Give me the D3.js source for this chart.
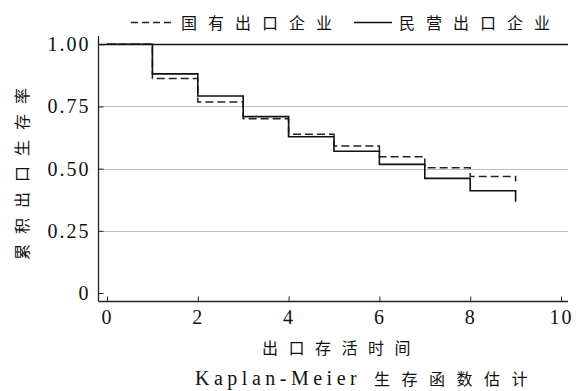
<!DOCTYPE html>
<html>
<head>
<meta charset="utf-8">
<script src="https://cdn.jsdelivr.net/npm/d3@7"></script>
<style>
  html, body { margin: 0; padding: 0; background: #fff; }
  svg { display: block; }
</style>
</head>
<body>
<div id="chart"></div>
<script>
// data
var times = [0, 1, 2, 3, 4, 5, 6, 7, 8, 9];
var stateSurvival = [1, 0.862, 0.768, 0.701, 0.638, 0.591, 0.548, 0.504, 0.468, 0.448];
var privateSurvival = [1, 0.881, 0.792, 0.709, 0.628, 0.570, 0.517, 0.461, 0.411, 0.367];
var xTicks = [0, 2, 4, 6, 8, 10];
var yTicks = [0, 0.25, 0.5, 0.75, 1];
var yTickLabels = ['0', '0.25', '0.50', '0.75', '1.00'];
var seriesNames = ['国有出口企业', '民营出口企业'];

var attrs = {
  svgWidth: 576,
  svgHeight: 391,
  plotLeft: 107,
  plotRight: 561,
  plotTop: 44.3,
  plotBottom: 293,
  axisLeftX: 98.5,
  axisBottomY: 301.5,
  axisRightEnd: 568,
  serif: '"Liberation Serif", "DejaVu Serif", serif',
  cjk: '"Noto Sans CJK SC", sans-serif'
};

var x = d3.scaleLinear().domain([0, 10]).range([attrs.plotLeft, attrs.plotRight]);
var y = d3.scaleLinear().domain([0, 1]).range([attrs.plotBottom, attrs.plotTop]);

var svg = d3.select('#chart').append('svg')
  .attr('width', attrs.svgWidth)
  .attr('height', attrs.svgHeight);

// gridlines
svg.append('g').attr('class', 'grid')
  .selectAll('line')
  .data(yTicks.filter(function (d) { return d > 0; }))
  .enter().append('line')
  .attr('x1', attrs.axisLeftX)
  .attr('x2', attrs.axisRightEnd)
  .attr('y1', function (d) { return Math.round(y(d)) + 0.5; })
  .attr('y2', function (d) { return Math.round(y(d)) + 0.5; })
  .attr('stroke', function (d) { return d === 1 ? '#111' : '#bdbdbd'; })
  .attr('stroke-width', function (d) { return d === 1 ? 1.5 : 1; });

// axes lines
svg.append('line')
  .attr('x1', attrs.axisLeftX).attr('x2', attrs.axisLeftX)
  .attr('y1', 36).attr('y2', attrs.axisBottomY)
  .attr('stroke', '#222').attr('stroke-width', 1.3);
svg.append('line')
  .attr('x1', attrs.axisLeftX).attr('x2', attrs.axisRightEnd)
  .attr('y1', attrs.axisBottomY).attr('y2', attrs.axisBottomY)
  .attr('stroke', '#222').attr('stroke-width', 1.3);

// x axis ticks
var xAxis = d3.axisBottom(x)
  .tickValues(xTicks)
  .tickSizeInner(-5)
  .tickSizeOuter(0)
  .tickPadding(8)
  .tickFormat(d3.format('d'));

var gx = svg.append('g')
  .attr('transform', 'translate(0,' + attrs.axisBottomY + ')')
  .call(xAxis);
gx.select('.domain').remove();
gx.selectAll('.tick line').attr('stroke', '#222');
gx.selectAll('.tick text')
  .attr('font-family', attrs.serif)
  .attr('font-size', 20)
  .attr('letter-spacing', 2)
  .attr('fill', '#111');

// y axis ticks
var yAxis = d3.axisLeft(y)
  .tickValues(yTicks)
  .tickSizeInner(-5)
  .tickSizeOuter(0)
  .tickPadding(8)
  .tickFormat(function (d, i) { return yTickLabels[i]; });

var gy = svg.append('g')
  .attr('transform', 'translate(' + attrs.axisLeftX + ',0)')
  .call(yAxis);
gy.select('.domain').remove();
gy.selectAll('.tick line').attr('stroke', '#222');
gy.selectAll('.tick text')
  .attr('font-family', attrs.serif)
  .attr('font-size', 20)
  .attr('letter-spacing', 2)
  .attr('fill', '#111');

// survival steps
var stepLine = d3.line()
  .x(function (d) { return x(d[0]); })
  .y(function (d) { return y(d[1]); })
  .curve(d3.curveStepAfter);

svg.append('path')
  .datum(times.map(function (t, i) { return [t, stateSurvival[i]]; }))
  .attr('d', stepLine)
  .attr('fill', 'none')
  .attr('stroke', '#222')
  .attr('stroke-width', 1.5)
  .attr('stroke-dasharray', '8,4');

svg.append('path')
  .datum(times.map(function (t, i) { return [t, privateSurvival[i]]; }))
  .attr('d', stepLine)
  .attr('fill', 'none')
  .attr('stroke', '#111')
  .attr('stroke-width', 1.6);

// legend
var legend = svg.append('g').attr('class', 'legend');
legend.append('line')
  .attr('x1', 131).attr('x2', 174).attr('y1', 22.5).attr('y2', 22.5)
  .attr('stroke', '#222').attr('stroke-width', 1.5)
  .attr('stroke-dasharray', '7,4');
legend.append('text')
  .attr('x', 181).attr('y', 29)
  .attr('font-family', attrs.cjk).attr('font-size', 16)
  .attr('letter-spacing', 11)
  .attr('fill', '#111')
  .text(seriesNames[0]);
legend.append('line')
  .attr('x1', 354).attr('x2', 392).attr('y1', 22.5).attr('y2', 22.5)
  .attr('stroke', '#111').attr('stroke-width', 1.5);
legend.append('text')
  .attr('x', 399).attr('y', 29)
  .attr('font-family', attrs.cjk).attr('font-size', 16)
  .attr('letter-spacing', 11)
  .attr('fill', '#111')
  .text(seriesNames[1]);

// axis titles
svg.append('text')
  .attr('x', 262).attr('y', 354)
  .attr('font-family', attrs.cjk).attr('font-size', 16)
  .attr('letter-spacing', 10.5)
  .attr('fill', '#111')
  .text('出口存活时间');

svg.append('text')
  .attr('transform', 'translate(28,' + 260 + ') rotate(-90)')
  .attr('font-family', attrs.cjk).attr('font-size', 16)
  .attr('letter-spacing', 10)
  .attr('fill', '#111')
  .text('累积出口生存率');

var caption = svg.append('text')
  .attr('x', 195).attr('y', 385)
  .attr('fill', '#111');
caption.append('tspan')
  .attr('font-family', attrs.serif).attr('font-size', 20)
  .attr('letter-spacing', 4.5)
  .text('Kaplan-Meier');
caption.append('tspan')
  .attr('x', 374)
  .attr('font-family', attrs.cjk).attr('font-size', 16)
  .attr('letter-spacing', 11.5)
  .text('生存函数估计');
</script>
</body>
</html>
